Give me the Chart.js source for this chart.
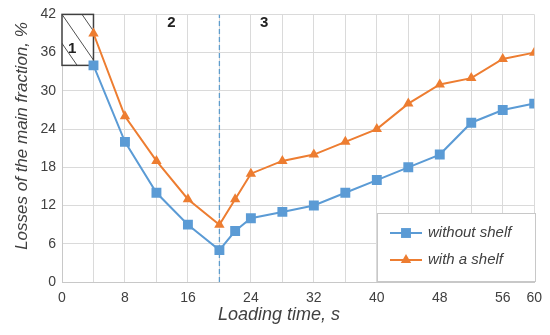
<!DOCTYPE html>
<html lang="en">
<head>
    <meta charset="UTF-8">
    <title>Losses of the main fraction vs loading time</title>
    <style>
        body { margin: 0; padding: 0; background: #fff; }
        #wrap { width: 550px; height: 335px; }
    </style>
    <script src="https://cdn.jsdelivr.net/npm/chart.js"></script>
</head>
<body>
    <div id="wrap"><canvas id="lossChart" width="550" height="335"></canvas></div>
    <script>
        // loading time, s
        const timeS = [4, 8, 12, 16, 20, 22, 24, 28, 32, 36, 40, 44, 48, 52, 56, 60];
        // losses, %
        const withoutShelf = [34, 22, 14, 9, 5, 8, 10, 11, 12, 14, 16, 18, 20, 25, 27, 28];
        const withShelf = [39, 26, 19, 13, 9, 13, 17, 19, 20, 22, 24, 28, 31, 32, 35, 36];

        const seriesNames = ['without shelf', 'with a shelf'];
        const seriesColors = ['#5b9bd5', '#ed7d31'];

        // zone boundary (dashed line) and the hatched zone 1
        const boundaryX = 20;
        const zone1 = { xMin: 0, xMax: 4, yMin: 34, yMax: 42 };
        const zoneLabels = [
            { text: '1', x: 1.3, y: 36.6 },
            { text: '2', x: 13.9, y: 40.6 },
            { text: '3', x: 25.7, y: 40.6 }
        ];

        const xLabelValues = [0, 8, 16, 24, 32, 40, 48, 56, 60];
        const yLabelStep = 6;

        const toPoints = (xs, ys) => xs.map((v, i) => ({ x: v, y: ys[i] }));

        const textColor = '#404040';
        const fontFamily = '"Liberation Sans", Arial, sans-serif';

        const extrasPlugin = {
            id: 'extras',
            beforeDatasetsDraw(chart) {
                const { ctx, scales: { x, y } } = chart;
                const l = x.getPixelForValue(zone1.xMin);
                const r = x.getPixelForValue(zone1.xMax);
                const t = y.getPixelForValue(zone1.yMax);
                const b = y.getPixelForValue(zone1.yMin);
                ctx.save();
                ctx.fillStyle = '#fff';
                ctx.fillRect(l, t, r - l, b - t);
                // hatching
                ctx.beginPath();
                ctx.rect(l, t, r - l, b - t);
                ctx.clip();
                ctx.strokeStyle = '#505050';
                ctx.lineWidth = 1;
                const h = b - t;
                for (let k = -3; k <= 3; k++) {
                    const x0 = l + k * 20;
                    ctx.beginPath();
                    ctx.moveTo(x0, t);
                    ctx.lineTo(x0 + h / 1.45, b);
                    ctx.stroke();
                }
                ctx.restore();
                ctx.save();
                ctx.strokeStyle = '#404040';
                ctx.lineWidth = 1.5;
                ctx.strokeRect(l, t, r - l, b - t);
                // zone numbers
                ctx.fillStyle = '#222';
                ctx.font = 'bold 15px ' + fontFamily;
                ctx.textAlign = 'center';
                ctx.textBaseline = 'middle';
                zoneLabels.forEach(z => {
                    ctx.fillText(z.text, x.getPixelForValue(z.x), y.getPixelForValue(z.y));
                });
                ctx.restore();
            },
            afterDraw(chart) {
                const { ctx } = chart;
                ctx.save();
                // axis titles
                ctx.fillStyle = textColor;
                ctx.font = 'italic 18px ' + fontFamily;
                ctx.textAlign = 'center';
                ctx.textBaseline = 'middle';
                ctx.fillText('Loading time, s', 279, 315);
                ctx.save();
                ctx.translate(22, 136);
                ctx.rotate(-Math.PI / 2);
                ctx.font = 'italic 17px ' + fontFamily;
                ctx.fillText('Losses of the main fraction, %', 0, 0);
                ctx.restore();

                // legend box
                const bx = 377, by = 213, bw = 158, bh = 68;
                ctx.fillStyle = '#fff';
                ctx.fillRect(bx, by, bw, bh);
                ctx.strokeStyle = '#c8c8c8';
                ctx.lineWidth = 1;
                ctx.strokeRect(bx + 0.5, by + 0.5, bw, bh);
                const styles = ['rect', 'triangle'];
                const radii = [7, 6];
                seriesNames.forEach((name, i) => {
                    const cy = by + 20 + i * 27;
                    ctx.strokeStyle = seriesColors[i];
                    ctx.lineWidth = 2;
                    ctx.beginPath();
                    ctx.moveTo(bx + 13, cy);
                    ctx.lineTo(bx + 45, cy);
                    ctx.stroke();
                    ctx.fillStyle = seriesColors[i];
                    Chart.helpers.drawPoint(ctx, { pointStyle: styles[i], radius: radii[i], rotation: 0, borderWidth: 0 }, bx + 29, cy);
                    ctx.fillStyle = textColor;
                    ctx.font = 'italic 15px ' + fontFamily;
                    ctx.textAlign = 'left';
                    ctx.fillText(name, bx + 51, cy);
                });
                ctx.restore();
            }
        };

        new Chart(document.getElementById('lossChart'), {
            type: 'line',
            data: {
                datasets: [
                    {
                        label: seriesNames[0],
                        data: toPoints(timeS, withoutShelf),
                        borderColor: seriesColors[0],
                        backgroundColor: seriesColors[0],
                        borderWidth: 2,
                        pointStyle: 'rect',
                        pointRadius: 7,
                        pointBorderWidth: 0,
                        order: 1
                    },
                    {
                        label: seriesNames[1],
                        data: toPoints(timeS, withShelf),
                        borderColor: seriesColors[1],
                        backgroundColor: seriesColors[1],
                        borderWidth: 2,
                        pointStyle: 'triangle',
                        pointRadius: 6,
                        pointBorderWidth: 0,
                        order: 0
                    },
                    {
                        label: 'boundary',
                        data: [{ x: boundaryX, y: 0 }, { x: boundaryX, y: 42 }],
                        borderColor: '#5f9dcc',
                        borderWidth: 1.3,
                        borderDash: [5, 3],
                        pointRadius: 0,
                        order: 5
                    }
                ]
            },
            options: {
                responsive: false,
                animation: false,
                layout: { padding: { top: 11, right: 12, left: 0, bottom: 0 } },
                plugins: {
                    legend: { display: false },
                    tooltip: { enabled: false }
                },
                scales: {
                    x: {
                        type: 'linear',
                        min: 0,
                        max: 60,
                        afterFit(axis) { axis.height = 53; },
                        afterBuildTicks(axis) {
                            const vals = [];
                            for (let v = 0; v <= 60; v += 4) vals.push({ value: v });
                            axis.ticks = vals;
                        },
                        grid: { color: '#dadada', drawTicks: false },
                        border: { color: '#c8c8c8' },
                        ticks: {
                            autoSkip: false,
                            maxRotation: 0,
                            padding: 8,
                            color: textColor,
                            font: { size: 14, family: fontFamily },
                            callback: v => xLabelValues.includes(v) ? String(v) : ''
                        }
                    },
                    y: {
                        min: 0,
                        max: 42,
                        afterFit(axis) { axis.width = 62; },
                        grid: { color: '#dadada', drawTicks: false },
                        border: { color: '#c8c8c8' },
                        ticks: {
                            stepSize: 3,
                            padding: 6,
                            color: textColor,
                            font: { size: 14, family: fontFamily },
                            callback: v => v % yLabelStep === 0 ? String(v) : ''
                        }
                    }
                }
            },
            plugins: [extrasPlugin]
        });
    </script>
</body>
</html>
